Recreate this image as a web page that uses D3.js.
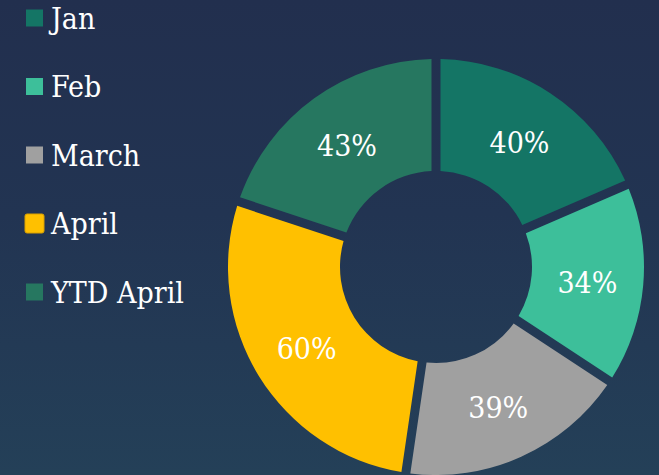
<!DOCTYPE html>
<html><head><meta charset="utf-8">
<script src="https://cdn.jsdelivr.net/npm/d3@7"></script>
<style>html,body{margin:0;padding:0;background:#222f4e;}svg{display:block;}</style>
</head><body>
<svg id="c" width="659" height="475"></svg>
<script>
const categories = ["Jan", "Feb", "March", "April", "YTD April"];
const values = [40, 34, 39, 60, 43];
const labels = ["40%", "34%", "39%", "60%", "43%"];
const colors = ["#147565", "#3dbf9a", "#a0a0a0", "#ffc000", "#267760"];

const W = 659, H = 475;
const FONT = "'DejaVu Serif Condensed', 'DejaVu Serif', 'Liberation Serif', serif";
const svg = d3.select("#c");
const defs = svg.append("defs");
const g = defs.append("linearGradient").attr("id","bg").attr("x1",0).attr("y1",0).attr("x2",0).attr("y2",1);
g.append("stop").attr("offset","0%").attr("stop-color","#222f4e");
g.append("stop").attr("offset","45%").attr("stop-color","#223452");
g.append("stop").attr("offset","100%").attr("stop-color","#244058");
svg.append("rect").attr("width",W).attr("height",H).attr("fill","url(#bg)");

const cx = 436, cy = 267, R = 208, r = 96;
const pie = d3.pie().sort(null).value(d => d)(values);
const arc = d3.arc().innerRadius(r).outerRadius(R).padAngle(0.09).padRadius(100);
const lab = d3.arc().innerRadius((r+R)/2).outerRadius((r+R)/2);
const gp = svg.append("g").attr("transform", `translate(${cx},${cy})`);
gp.selectAll("path").data(pie).join("path")
  .attr("d", arc).attr("fill", (d,i) => colors[i]);
gp.selectAll("text").data(pie).join("text")
  .attr("transform", d => `translate(${lab.centroid(d)})`)
  .attr("text-anchor","middle").attr("dy","0.42em")
  .attr("fill","#ffffff")
  .style("font-family", FONT).style("font-stretch","condensed").style("font-size","30px")
  .text((d,i) => labels[i]);

const y = d3.scalePoint().domain(categories).range([18, 292]);
const lg = svg.append("g");
const items = lg.selectAll("g").data(categories).join("g")
  .attr("transform", d => `translate(0,${y(d)})`);
items.append("rect")
  .attr("x", (d,i) => i===3 ? 25 : 26).attr("y", (d,i) => i===3 ? -9.5 : -8.5)
  .attr("width", (d,i) => i===3 ? 19 : 17).attr("height", (d,i) => i===3 ? 19 : 17)
  .attr("rx", (d,i) => i===3 ? 2 : 0)
  .attr("fill", (d,i) => colors[i])
  .attr("stroke", (d,i) => i===3 ? "#d9a000" : "none").attr("stroke-width", 1);
items.append("text").attr("x", 51).attr("dy","0.35em")
  .attr("fill","#ffffff")
  .style("font-family", FONT).style("font-stretch","condensed").style("font-size","30px")
  .text(d => d);
</script>
</body></html>
